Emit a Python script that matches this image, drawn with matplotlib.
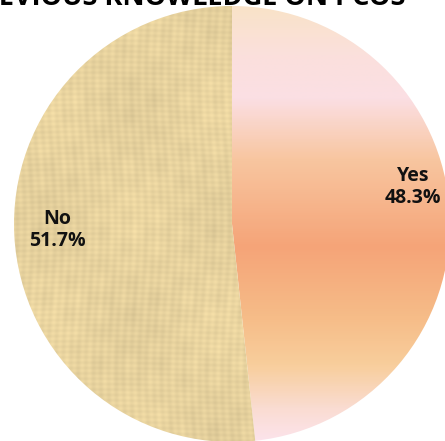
import numpy as np
import matplotlib
matplotlib.use("Agg")
import matplotlib.pyplot as plt
from matplotlib.colors import LinearSegmentedColormap, to_rgb

# data
labels = ["Yes", "No"]
shares = [48.3, 51.7]
title = "PREVIOUS KNOWLEDGE ON PCOS"

W, H = 445, 441
fig = plt.figure(figsize=(W / 100, H / 100), dpi=100)
ax = fig.add_axes([0, 0, 1, 1])

cx, cy, r = 232, H - 224, 218
wedges, _ = ax.pie(shares, startangle=90, counterclock=False,
                   center=(cx, cy), radius=r,
                   wedgeprops=dict(facecolor="none", edgecolor="none"))
ax.set_xlim(0, W)
ax.set_ylim(0, H)
ax.set_aspect("equal")
ax.axis("off")

# Yes slice: vertical peach/pink gradient (stops from top of image)
stops = [(0.00, "#F9E3C6"), (0.12, "#FBE0DC"), (0.22, "#FBDFE4"),
         (0.36, "#F8C6A0"), (0.56, "#F5A478"), (0.72, "#F6BC88"),
         (0.83, "#F8CE9C"), (0.93, "#FADCD2"), (1.00, "#FCE3EA")]
grad = LinearSegmentedColormap.from_list("yes_grad", stops)
yy = np.linspace(0, 1, 300).reshape(-1, 1)
img = ax.imshow(yy, cmap=grad, aspect="auto", extent=(0, W, 0, H),
                interpolation="bilinear", zorder=1)
img.set_clip_path(wedges[0])

# No slice: papyrus-like fibres
ys, xs = np.mgrid[0:H, 0:W].astype(float)
base = np.array(to_rgb("#E7D29E"))
tex = (0.018 * np.sin(xs * 0.83 + 3 * np.sin(ys * 0.021))
       + 0.015 * np.sin(ys * 1.17 + 2 * np.sin(xs * 0.017))
       + 0.012 * np.sin(xs * 0.29 + ys * 0.013) * np.sin(ys * 0.047)
       + 0.02 * np.cos(xs * 0.037 + 1.3) * np.cos(ys * 0.029)
       + 0.012 * np.sin(xs * 0.11) * np.cos(ys * 0.19))
pap = np.clip(base[None, None, :] * (1 + tex[..., None]), 0, 1)
img2 = ax.imshow(pap, extent=(0, W, 0, H), aspect="auto",
                 interpolation="bilinear", zorder=1)
img2.set_clip_path(wedges[1])

lab_font = dict(family=["Open Sans", "DejaVu Sans"], weight="bold",
                fontsize=14, color="#111111", ha="center", va="center",
                linespacing=1.15, zorder=3)
ax.text(413, H - 187, f"{labels[0]}\n{shares[0]}%", **lab_font)
ax.text(57, H - 230, f"{labels[1]}\n{shares[1]}%", **lab_font)

fig.text(405 / W, 1 - 5 / H, title, ha="right", va="baseline",
         fontsize=19.5, weight="bold", family=["Open Sans", "DejaVu Sans"],
         color="#000000")

fig.savefig("out.png", dpi=100)
